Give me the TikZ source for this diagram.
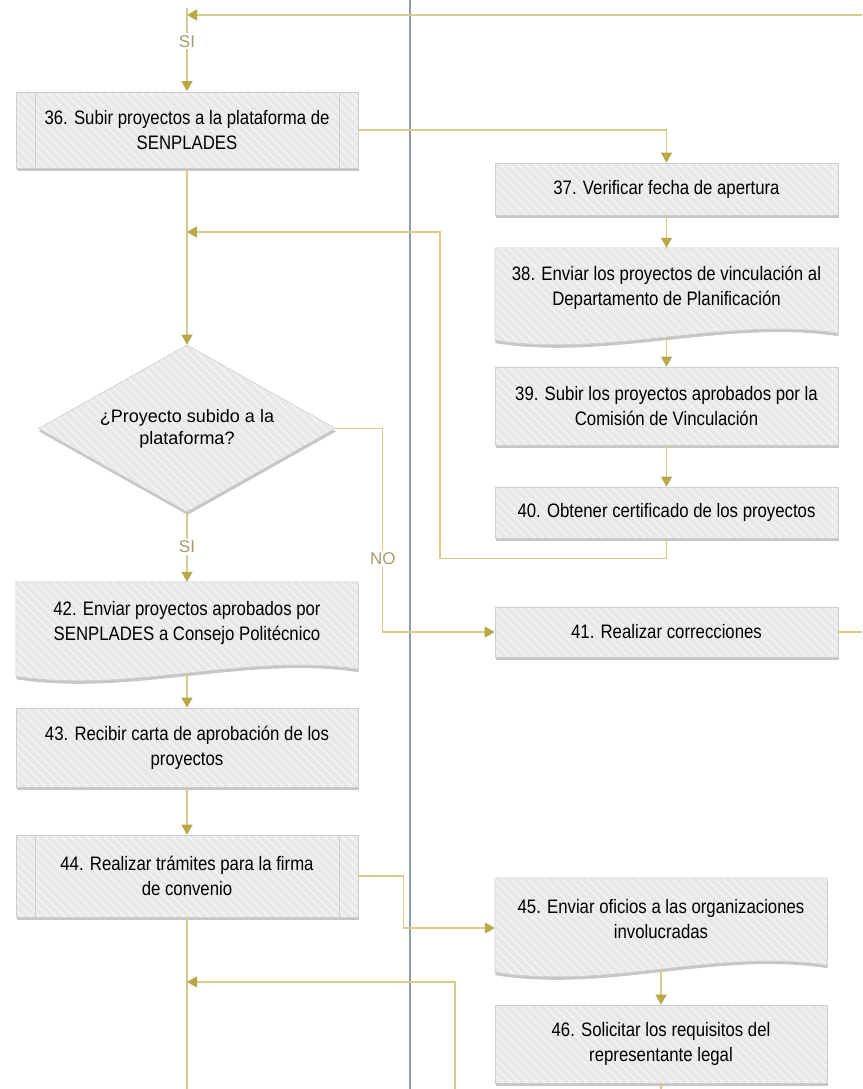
\documentclass[tikz,border=0pt]{standalone}
\usepackage{fontspec}
\setmainfont{Liberation Sans}
\newfontfamily\estrecha{Liberation Sans}[FakeStretch=0.86]
\usetikzlibrary{arrows.meta,calc,shapes.geometric,shadows,patterns.meta,backgrounds}
\definecolor{relleno}{HTML}{E8E8E8}
\definecolor{raya}{HTML}{F3F3F3}
\definecolor{borde}{HTML}{CDCDCD}
\definecolor{lineaf}{HTML}{D8CB88}
\definecolor{puntaf}{HTML}{B8A848}
\definecolor{etiqf}{HTML}{A49C6E}
\definecolor{carrilf}{HTML}{8F9CA7}
\newcommand\cajafont{\estrecha\fontsize{19.5}{25}\selectfont}
\newcommand\decfont{\fontsize{18}{22}\selectfont}
\newcommand\etiqfont{\fontsize{17}{17}\selectfont}
\tikzset{
  fondo/.style={draw=borde,line width=0.6pt,
    drop shadow={shadow xshift=0.5pt,shadow yshift=-3pt,fill=black!50,opacity=0.45},
    preaction={fill=relleno},
    pattern={Lines[angle=-45,distance=6pt,line width=1.6pt]},pattern color=raya},
  proc/.style={rectangle,fondo,align=center,inner sep=0pt,font=\cajafont},
  subproc/.style={proc,path picture={
    \draw[borde,line width=0.6pt] ([xshift=19pt]path picture bounding box.north west)--([xshift=19pt]path picture bounding box.south west);
    \draw[borde,line width=0.6pt] ([xshift=-19pt]path picture bounding box.north east)--([xshift=-19pt]path picture bounding box.south east);}},
  doc/.style={rectangle,align=center,inner sep=0pt,font=\cajafont},
  decis/.style={diamond,fondo,aspect=1.78,minimum width=297pt,minimum height=167pt,
    inner sep=0pt,align=center,font=\decfont},
  izq/.style={minimum width=342pt},
  der/.style={minimum width=343pt},
  linea/.style={lineaf,line width=1.2pt},
  flecha/.style={linea,-{Triangle[length=10pt,width=11pt,color=puntaf]}},
  etiq/.style={fill=white,text=etiqf,font=\etiqfont,inner sep=2pt},
  carril/.style={carrilf,line width=1.3pt},
}
\begin{document}
\begin{tikzpicture}[x=1pt,y=-1pt]
  \useasboundingbox (0,0) rectangle (862,1089);
  \draw[carril] (410,0) -- (410,1089);

  \node[subproc,izq,minimum height=76pt] (p36) at (187,130) {36. Subir proyectos a la plataforma de\\SENPLADES};
  \node[proc,der,minimum height=52pt] (p37) at (666.5,189) {37. Verificar fecha de apertura};
  \node[doc,der,minimum height=80pt] (d38) at (666.5,288) {38. Enviar los proyectos de vinculación al\\Departamento de Planificación};
  \node[proc,der,minimum height=78pt] (p39) at (666.5,406) {39. Subir los proyectos aprobados por la\\Comisión de Vinculación};
  \node[proc,der,minimum height=51pt] (p40) at (666.5,512.5) {40. Obtener certificado de los proyectos};
  \node[decis] (dec) at (187,428.5) {¿Proyecto subido a la\\plataforma?};
  \node[proc,der,minimum height=50pt] (p41) at (666.5,632) {41. Realizar correcciones};
  \node[doc,izq,minimum height=82pt] (d42) at (187,623) {42. Enviar proyectos aprobados por\\SENPLADES a Consejo Politécnico};
  \node[proc,izq,minimum height=79pt] (p43) at (187,747.5) {43. Recibir carta de aprobación de los\\proyectos};
  \node[subproc,izq,minimum height=82pt] (p44) at (187,876) {44. Realizar trámites para la firma\\de convenio};
  \node[doc,minimum width=332pt,minimum height=82pt] (d45) at (661,919) {45. Enviar oficios a las organizaciones\\involucradas};
  \node[proc,minimum width=332pt,minimum height=78pt] (p46) at (661,1044) {46. Solicitar los requisitos del\\representante legal};

  \begin{scope}[on background layer]
    \foreach \n in {d38,d42,d45}
      \path[fondo] (\n.north west) -- (\n.north east) -- ($(\n.south east)+(0,5)$)
        .. controls ($(\n.south east)+(-112,-12)$) and ($(\n.south west)+(112,30)$) .. ($(\n.south west)+(0,12)$) -- cycle;
  \end{scope}

  \coordinate (arriba) at (862,15);
  \coordinate (inicio) at (187,8);
  \coordinate (vuelta1) at (440,232);
  \coordinate (der41) at (862,632);
  \coordinate (fin46) at (661,1089);
  \coordinate (fin44) at (187,1089);
  \coordinate (abajo) at (455,1089);
  \coordinate (vuelta2) at (455,982);

  \draw[flecha] (arriba) -- (arriba -| inicio);
  \draw[flecha] (inicio) -- (p36) node[etiq,pos=0.4] {SI};
  \draw[flecha] (p36) -| (p37);
  \draw[flecha] (p37) -- (d38);
  \draw[flecha] ($(d38.south)+(0,9)$) -- (p39);
  \draw[flecha] (p39) -- (p40);
  \draw[flecha] (p40.south) -- ++(0,20) -| (vuelta1) -- (vuelta1 -| p36);
  \draw[flecha] (p36) -- (dec);
  \draw[flecha] (dec.east) -- ++(47,0) |- (p41) node[etiq,pos=0.32] {NO};
  \draw[linea] (p41) -- (der41);
  \draw[flecha] (dec) -- (d42) node[etiq,midway] {SI};
  \draw[flecha] ($(d42.south)+(0,9)$) -- (p43);
  \draw[flecha] (p43) -- (p44);
  \draw[flecha] (p44.east) -- ++(45,0) |- ($(d45.west)+(0,9)$);
  \draw[flecha] ($(d45.south)+(0,9)$) -- (p46);
  \draw[linea] (p46) -- (fin46);
  \draw[linea] (p44) -- (fin44);
  \draw[flecha] (abajo) -- (vuelta2) -- (vuelta2 -| p44);
\end{tikzpicture}
\end{document}
